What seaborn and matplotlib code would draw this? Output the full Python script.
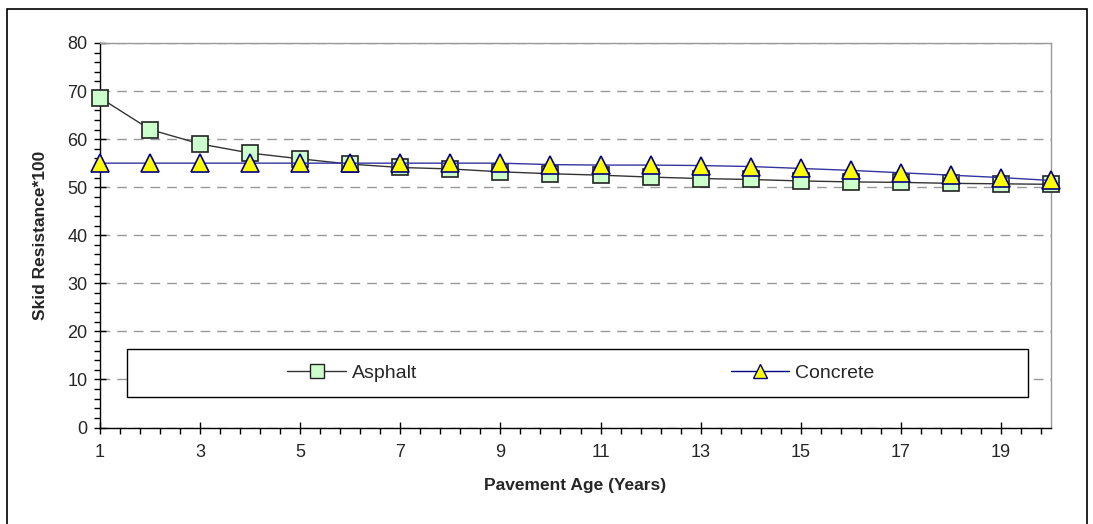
import numpy as np
import pandas as pd
import matplotlib
matplotlib.use("Agg")
import matplotlib.pyplot as plt
from matplotlib.patches import Rectangle
from matplotlib.lines import Line2D
from matplotlib.ticker import FixedLocator, MultipleLocator
import seaborn as sns

years = list(range(1, 21))
asphalt = [68.6, 62.0, 59.0, 57.1, 55.9, 54.8, 54.1, 53.8, 53.2, 52.8,
           52.5, 52.1, 51.8, 51.6, 51.3, 51.1, 51.0, 50.8, 50.7, 50.6]
concrete = [55.0, 55.0, 55.0, 55.0, 55.0, 55.0, 55.0, 55.0, 55.0, 54.7,
            54.6, 54.6, 54.5, 54.3, 53.9, 53.5, 53.0, 52.5, 52.0, 51.4]
x_ticks = [1, 3, 5, 7, 9, 11, 13, 15, 17, 19]
y_ticks = [0, 10, 20, 30, 40, 50, 60, 70, 80]
series_names = ["Asphalt", "Concrete"]

sns.set_style("white")
plt.rcParams['font.family'] = ['Liberation Sans', 'DejaVu Sans']

W, H = 1093, 524
fig = plt.figure(figsize=(W / 100, H / 100), dpi=100)
ax = fig.add_axes([100 / W, (H - 427.5) / H, (1051 - 100) / W, (427.5 - 43) / H])

df = pd.DataFrame({"year": years, "Asphalt": asphalt, "Concrete": concrete})

sns.lineplot(data=df, x="year", y="Asphalt", ax=ax, color="#333333", lw=1.0,
             marker="s", markersize=11, markerfacecolor="#CCFFCC",
             markeredgecolor="#222222", markeredgewidth=1.2, zorder=3,
             clip_on=False)
sns.lineplot(data=df, x="year", y="Concrete", ax=ax, color="#3333A0", lw=1.0,
             marker="^", markersize=12.5, markerfacecolor="#FFFF00",
             markeredgecolor="#000080", markeredgewidth=1.2, zorder=4,
             clip_on=False)

ax.set_xlim(1, 20)
ax.set_ylim(0, 80)
ax.xaxis.set_major_locator(FixedLocator(x_ticks))
ax.xaxis.set_minor_locator(FixedLocator(np.arange(1, 20.01, 0.4)))
ax.yaxis.set_major_locator(FixedLocator(y_ticks))
ax.yaxis.set_minor_locator(MultipleLocator(2))
ax.tick_params(axis='both', which='both', bottom=True, left=True, top=False, right=False)
ax.tick_params(axis='both', which='major', direction='inout', length=8, width=1,
               color='black', labelsize=13, pad=5)
ax.tick_params(axis='both', which='minor', direction='out', length=4, width=1,
               color='black')
ax.tick_params(axis='x', which='major', pad=8)

ax.grid(axis='y', which='major', color='#999999', linestyle=(0, (7, 5)), lw=1.0)
ax.set_axisbelow(True)

for s in ['left', 'bottom']:
    ax.spines[s].set_color('black')
    ax.spines[s].set_linewidth(1.0)
for s in ['top', 'right']:
    ax.spines[s].set_color('#999999')
    ax.spines[s].set_linewidth(1.0)

ax.set_xlabel("Pavement Age (Years)", fontsize=12.5, fontweight='bold', labelpad=12)
ax.set_ylabel("Skid Resistance*100", fontsize=12.5, fontweight='bold', labelpad=14)

# legend box
lx0, lx1 = (127 - 100) / 951, (1028 - 100) / 951
ly0, ly1 = (427.5 - 397) / 384.5, (427.5 - 349) / 384.5
ax.add_patch(Rectangle((lx0, ly0), lx1 - lx0, ly1 - ly0, transform=ax.transAxes,
                       facecolor='white', edgecolor='black', lw=1.0, zorder=5))
h1 = Line2D([], [], color="#333333", lw=1.0, marker="s", markersize=10,
            markerfacecolor="#CCFFCC", markeredgecolor="#222222")
h2 = Line2D([], [], color="#000080", lw=1.0, marker="^", markersize=10,
            markerfacecolor="#FFFF00", markeredgecolor="#000080")
ymid = (ly0 + ly1) / 2
xm = (lx0 + lx1) / 2
leg1 = ax.legend([h1], [series_names[0]], loc='center',
                 bbox_to_anchor=((lx0 + xm) / 2, ymid), frameon=False,
                 fontsize=14, handlelength=3.0, handletextpad=0.3)
leg1.set_zorder(6)
ax.add_artist(leg1)
leg2 = ax.legend([h2], [series_names[1]], loc='center',
                 bbox_to_anchor=((xm + lx1) / 2, ymid), frameon=False,
                 fontsize=14, handlelength=3.0, handletextpad=0.3)
leg2.set_zorder(6)

# outer chart border
fig.add_artist(Rectangle((7 / W, -0.02), (1087 - 7) / W, (H - 9) / H + 0.02,
                         transform=fig.transFigure, facecolor='none',
                         edgecolor='black', lw=1.2))

fig.savefig("out.png", dpi=100)
